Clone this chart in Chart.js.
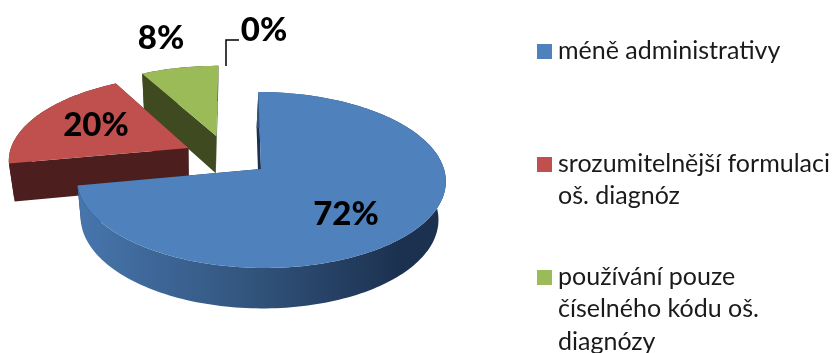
<!DOCTYPE html>
<html>
<head>
<meta charset="utf-8">
<style>
  html, body { margin: 0; padding: 0; background: #fff; }
  canvas { display: block; }
</style>
<script src="https://cdn.jsdelivr.net/npm/chart.js@4/dist/chart.umd.js"></script>
</head>
<body>
<canvas id="pieChart" width="835" height="353"></canvas>
<script>
const categories = [
  "méně administrativy",
  "srozumitelnější formulaci oš. diagnóz",
  "používání pouze číselného kódu oš. diagnózy",
  "ostatní"
];
const shares = [72, 20, 8, 0];
const sliceColors = ["#4f81bd", "#c0504d", "#9bbb59", "#8064a2"];
const cutColors = ["#1c3150", "#4c1f1e", "#3f4a20", "#333"];

// legend wrapping as in the original, the 4th (0 %) slice has no legend entry
const legendLines = [
  ["méně administrativy"],
  ["srozumitelnější formulaci", "oš. diagnóz"],
  ["používání pouze", "číselného kódu oš.", "diagnózy"]
];

// the look of the tilted pie
const view = { cx: 261, cy: 169, rx: 183, ry: 86.6, skew: 3, persp: 0.125, depth: 38, shrink: 0.03, pivot: 200 };
const sliceShift = [[0, 0], [-0.405, -0.25], [-0.25, -0.4], [0, 0]];
const labelSpots = [[346, 225], [96, 136], [161, 49], [264, 41]];

function project(u, v, z) {
  const k = 1 / (1 - view.persp * v);
  const m = 1 - view.shrink * z;
  const x = view.cx + (view.rx * u + view.skew * v) * k;
  return {
    x: view.pivot + (x - view.pivot) * m,
    y: view.cy + view.ry * v * k * m + view.depth * z * k
  };
}

const pie3d = {
  id: "pie3d",
  beforeDatasetDraw(chart, args) {
    const ctx = chart.ctx;
    const arcs = args.meta.data;

    // back to front
    for (let i = arcs.length - 1; i >= 0; i--) {
      if (!shares[i]) continue;
      const { startAngle, endAngle } = arcs[i].getProps(["startAngle", "endAngle"], true);
      const [du, dv] = sliceShift[i];
      const rim = (a, z) => project(du + Math.cos(a), dv + Math.sin(a), z);
      const apex = z => project(du, dv, z);

      const steps = Math.ceil((endAngle - startAngle) * 40);
      const angles = [];
      for (let s = 0; s <= steps; s++) angles.push(startAngle + (endAngle - startAngle) * s / steps);

      const fillPath = (pts, color) => {
        ctx.beginPath();
        pts.forEach((p, n) => (n ? ctx.lineTo(p.x, p.y) : ctx.moveTo(p.x, p.y)));
        ctx.closePath();
        ctx.fillStyle = color;
        ctx.fill();
      };

      // cut faces
      fillPath([apex(0), rim(startAngle, 0), rim(startAngle, 1), apex(1)], cutColors[i]);
      fillPath([apex(0), rim(endAngle, 0), rim(endAngle, 1), apex(1)], cutColors[i]);

      // outer wall, only the big slice shows it
      let wall = cutColors[i];
      if (i === 0) {
        wall = ctx.createLinearGradient(85, 0, 400, 0);
        wall.addColorStop(0, "#4674ab");
        wall.addColorStop(0.5, "#33567f");
        wall.addColorStop(1, "#1c3150");
      }
      fillPath(angles.map(a => rim(a, 0)).concat(angles.slice().reverse().map(a => rim(a, 1))), wall);

      // top face
      fillPath([apex(0)].concat(angles.map(a => rim(a, 0))), sliceColors[i]);
    }

    drawLabels(ctx);
    return false;
  }
};

function drawLabels(ctx) {
  ctx.fillStyle = "#000";
  ctx.font = "900 33px Lato";
  ctx.textAlign = "center";
  ctx.textBaseline = "alphabetic";
  shares.forEach((v, i) => ctx.fillText(v + "%", labelSpots[i][0], labelSpots[i][1]));

  // leader of the 0 % label
  ctx.strokeStyle = "#000";
  ctx.lineWidth = 1.5;
  ctx.beginPath();
  ctx.moveTo(226, 66);
  ctx.lineTo(226, 40);
  ctx.lineTo(239, 40);
  ctx.stroke();

  // legend
  ctx.textAlign = "left";
  ctx.font = "25px Lato";
  [44, 157, 270].forEach((top, i) => {
    ctx.fillStyle = sliceColors[i];
    ctx.fillRect(537, top, 15, 15);
    ctx.fillStyle = "#1a1a1a";
    legendLines[i].forEach((line, n) => ctx.fillText(line, 558, top + 14.5 + n * 32.5));
  });
}

new Chart(document.getElementById("pieChart"), {
  type: "pie",
  data: {
    labels: categories,
    datasets: [{ data: shares, backgroundColor: sliceColors, borderWidth: 0 }]
  },
  options: {
    responsive: false,
    animation: false,
    plugins: {
      legend: { display: false },
      tooltip: { enabled: false }
    }
  },
  plugins: [pie3d]
});
</script>
</body>
</html>
